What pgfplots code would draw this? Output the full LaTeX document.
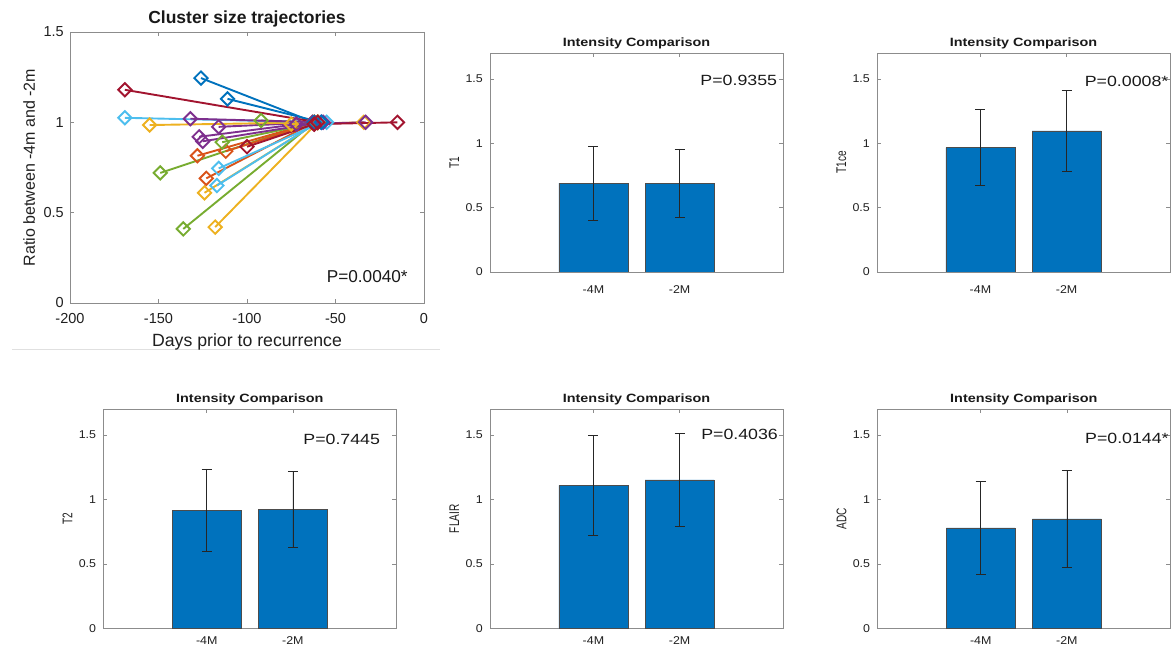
\documentclass[border=0pt]{standalone}
\usepackage{pgfplots}
\pgfplotsset{compat=1.18}
\usepackage{fontspec}
\setmainfont{Liberation Sans}
\newfontfamily\widefont{Liberation Sans}[FakeStretch=1.2]
\newfontfamily\tickfont{Liberation Sans}[FakeStretch=1.1]
\newfontfamily\narrowfont{Liberation Sans}[FakeStretch=0.72]

\definecolor{mb}{HTML}{0072BD}
\definecolor{mo}{HTML}{D95319}
\definecolor{my}{HTML}{EDB120}
\definecolor{mp}{HTML}{7E2F8E}
\definecolor{mg}{HTML}{77AC30}
\definecolor{mc}{HTML}{4DBEEE}
\definecolor{mr}{HTML}{A2142F}

\pgfplotsset{
  matbox/.style={scale only axis, anchor=south west,
    axis line style={black!45}, tick style={black!45, line width=0.5pt},
    tick align=inside, major tick length=4pt,
    ticklabel style={text=black!88}},
  traj/.style={line width=1.9pt, mark=square, mark size=4.7pt,
    mark options={rotate=45}},
  intcmp/.style={matbox, width=293pt, height=219pt,
    xmin=-0.2, xmax=3.2, ymin=0, ymax=1.7,
    xtick={1,2}, xticklabels={-4M,-2M},
    ytick={0,0.5,1,1.5}, yticklabels={0,0.5,1,1.5},
    title={Intensity Comparison},
    every axis title/.style={at={(axis description cs:0.5,1)}, anchor=base,
      inner sep=0pt, yshift=6.5pt, text=black!90,
      font=\widefont\bfseries\fontsize{12}{14}\selectfont},
    ticklabel style={font=\tickfont\fontsize{11.3}{13}\selectfont},
    yticklabel style={anchor=east, inner sep=0pt, xshift=-7pt},
    xticklabel style={anchor=base, inner sep=0pt},
    every axis y label/.style={at={(axis description cs:0,0.5)},
      xshift=-31pt, rotate=90, anchor=base, inner sep=0pt, text=black!88,
      font=\narrowfont\fontsize{14}{16}\selectfont}},
  intbar/.style={ybar, bar width=0.8, fill=mb, draw=black!70, line width=0.4pt,
    error bars/.cd, y dir=both, y explicit,
    error bar style={black!85, line width=0.6pt},
    error mark options={black!85, line width=0.6pt, mark size=5pt, rotate=90}}
}
\tikzset{pval/.style={anchor=west, inner sep=0pt, text=black!90,
    font=\widefont\fontsize{14.8}{17}\selectfont}}

\begin{document}
\begin{tikzpicture}
\path[use as bounding box] (0,0) rectangle (1172pt,654pt);
\draw[black!12, line width=1pt] (12pt,304pt) -- (440pt,304pt);

% cluster size trajectories
\begin{axis}[matbox, at={(70pt,351pt)}, width=354pt, height=271pt,
  xmin=-200, xmax=0, ymin=0, ymax=1.5,
  xtick={-200,-150,-100,-50,0}, xticklabels={-200,-150,-100,-50,0},
  ytick={0,0.5,1,1.5}, yticklabels={0,0.5,1,1.5},
  ticklabel style={font=\fontsize{14.5}{16}\selectfont},
  yticklabel style={anchor=east, inner sep=0pt, xshift=-6pt},
  xticklabel style={anchor=north, inner sep=0pt, yshift=-10pt},
  title={Cluster size trajectories},
  every axis title/.style={at={(axis description cs:0.5,1)}, anchor=base,
    inner sep=0pt, yshift=8pt, text=black!90,
    font=\bfseries\fontsize{17.5}{19}\selectfont},
  xlabel={Days prior to recurrence},
  every axis x label/.style={at={(axis description cs:0.5,0)}, anchor=base,
    inner sep=0pt, yshift=-43.7pt, text=black!88,
    font=\fontsize{17.7}{19}\selectfont},
  ylabel={Ratio between -4m and -2m},
  every axis y label/.style={at={(axis description cs:0,0.5)},
    xshift=-35pt, rotate=90, anchor=base, inner sep=0pt, text=black!88,
    font=\fontsize{16}{18}\selectfont}]
\addplot[traj, color=my] coordinates {(-118,0.42) (-60,1.0)};
\addplot[traj, color=mg] coordinates {(-136,0.41) (-62,1.0)};
\addplot[traj, color=my] coordinates {(-124,0.61) (-60,1.0)};
\addplot[traj, color=mc] coordinates {(-117,0.65) (-60,1.0)};
\addplot[traj, color=mo] coordinates {(-123,0.69) (-62,1.0)};
\addplot[traj, color=mc] coordinates {(-116,0.745) (-58,1.0)};
\addplot[traj, color=mg] coordinates {(-149,0.72) (-63,1.0)};
\addplot[traj, color=mo] coordinates {(-128,0.815) (-62,1.0)};
\addplot[traj, color=mo] coordinates {(-112,0.84) (-60,1.0)};
\addplot[traj, color=mr] coordinates {(-100,0.865) (-62,0.99)};
\addplot[traj, color=mg] coordinates {(-114,0.89) (-60,1.0)};
\addplot[traj, color=mp] coordinates {(-125,0.895) (-58,1.0)};
\addplot[traj, color=mp] coordinates {(-127,0.92) (-63,1.0)};
\addplot[traj, color=mp] coordinates {(-116,0.975) (-60,1.0)};
\addplot[traj, color=mg] coordinates {(-92,1.01) (-60,1.0)};
\addplot[traj, color=my] coordinates {(-155,0.985) (-60,1.0)};
\addplot[traj, color=mc] coordinates {(-169,1.025) (-55,1.0)};
\addplot[traj, color=mp] coordinates {(-132,1.02) (-57,1.0)};
\addplot[traj, color=mb] coordinates {(-111,1.13) (-58,1.0)};
\addplot[traj, color=mb] coordinates {(-126,1.245) (-62,1.0)};
\addplot[traj, color=mr] coordinates {(-169,1.18) (-60,1.0)};
\addplot[traj, color=my] coordinates {(-75,0.99) (-34,1.0)};
\addplot[traj, color=mp] coordinates {(-72,0.99) (-33,1.0)};
\addplot[traj, color=mr] coordinates {(-62,0.99) (-15,1.0)};
\node[anchor=west, inner sep=0pt, text=black!90, font=\fontsize{17.2}{19}\selectfont]
  at (axis cs:-55,0.146) {P=0.0040*};
\end{axis}

% T1
\begin{axis}[intcmp, at={(490pt,382pt)}, ylabel={T1},
  xticklabel style={yshift=-21.3pt}]
\addplot[intbar] coordinates {(1,0.69) +- (0,0.285) (2,0.69) +- (0,0.265)};
\node[pval] at (axis cs:2.24,1.49) {P=0.9355};
\end{axis}

% T1ce
\begin{axis}[intcmp, at={(877pt,382pt)}, ylabel={T1ce},
  xticklabel style={yshift=-21.3pt}]
\addplot[intbar] coordinates {(1,0.965) +- (0,0.295) (2,1.095) +- (0,0.315)};
\node[pval] at (axis cs:2.21,1.48) {P=0.0008*};
\end{axis}

% T2
\begin{axis}[intcmp, at={(103.3pt,25.7pt)}, ylabel={T2},
  xticklabel style={yshift=-15.7pt}]
\addplot[intbar] coordinates {(1,0.918) +- (0,0.32) (2,0.923) +- (0,0.295)};
\node[pval] at (axis cs:2.12,1.466) {P=0.7445};
\end{axis}

% FLAIR
\begin{axis}[intcmp, at={(490pt,25.7pt)}, ylabel={FLAIR},
  xticklabel style={yshift=-15.7pt}]
\addplot[intbar] coordinates {(1,1.11) +- (0,0.39) (2,1.152) +- (0,0.36)};
\node[pval] at (axis cs:2.25,1.505) {P=0.4036};
\end{axis}

% ADC
\begin{axis}[intcmp, at={(877.3pt,25.7pt)}, ylabel={ADC},
  xticklabel style={yshift=-15.7pt}]
\addplot[intbar] coordinates {(1,0.78) +- (0,0.36) (2,0.85) +- (0,0.38)};
\node[pval] at (axis cs:2.21,1.474) {P=0.0144*};
\end{axis}
\end{tikzpicture}
\end{document}
